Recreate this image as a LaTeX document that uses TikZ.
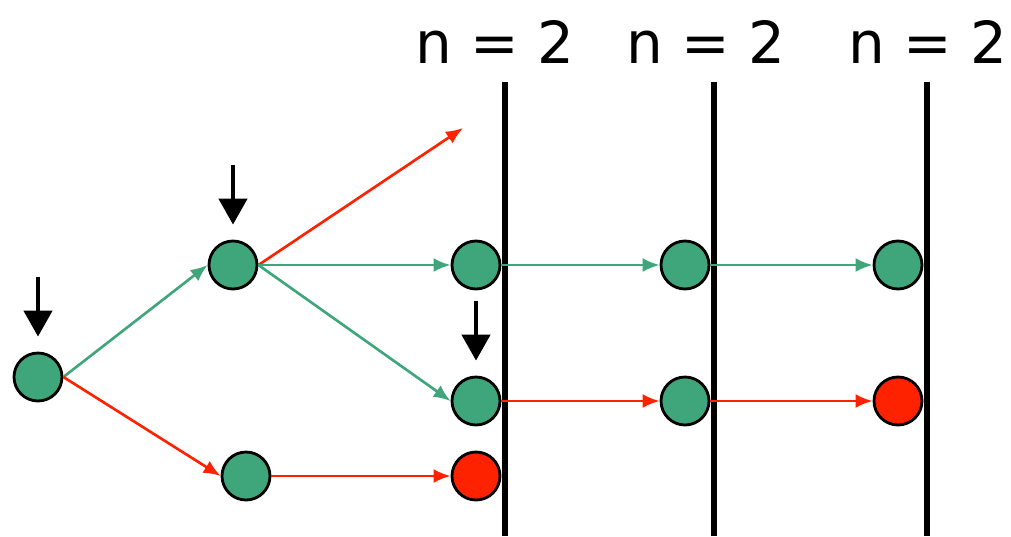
\documentclass[tikz,border=0pt]{standalone}
\usepackage{fontspec}
\setmainfont{DejaVu Sans}
\usetikzlibrary{arrows.meta}
\definecolor{leaf}{RGB}{63,165,122}
\definecolor{cut}{RGB}{255,34,0}
\begin{document}
\begin{tikzpicture}[
    st/.style={circle, draw=black, line width=0.8pt, inner sep=0pt, minimum size=0.48cm},
    go/.style={leaf, line width=0.75pt, -{Latex[length=0.17cm, width=0.14cm]}},
    stop/.style={cut, line width=0.75pt, -{Latex[length=0.17cm, width=0.14cm]}},
    drop/.style={black, line width=1.3pt, -{Triangle[length=0.26cm, width=0.28cm]}},
    wall/.style={black, line width=1.5pt}]
  \useasboundingbox (0,0) rectangle (10.11,5.36);
  % depth bars
  \foreach \x/\lx in {5.05/4.95, 7.14/7.06, 9.27/9.28}{
    \draw[wall] (\x,4.54) -- (\x,0);
    \node[font=\fontsize{16.5}{20}\selectfont] at (\lx,4.94) {n = 2};
  }
  % states
  \foreach \n/\x/\y/\c in {A/0.38/1.59/leaf, B/2.33/2.71/leaf, C/2.46/0.60/leaf,
      D/4.76/2.71/leaf, E/4.76/1.35/leaf, F/4.76/0.60/cut,
      G/6.85/2.71/leaf, H/6.85/1.35/leaf, I/8.98/2.71/leaf, J/8.98/1.35/cut}
    \node[st, fill=\c] (\n) at (\x,\y) {};
  \coordinate (off) at (4.63,4.08);
  % transitions
  \draw[go] (A.east) -- (B.west);
  \draw[stop] (A.east) -- (C.west);
  \draw[stop] (B.east) -- (off);
  \draw[go] (B.east) -- (D.west);
  \draw[go] (B.east) -- (E.west);
  \draw[stop] (C.east) -- (F.west);
  \draw[go] (D.east) -- (G.west);
  \draw[go] (G.east) -- (I.west);
  \draw[stop] (E.east) -- (H.west);
  \draw[stop] (H.east) -- (J.west);
  % expansion marks
  \foreach \n in {A,B,E}
    \draw[drop, shorten >=0.15cm] ([yshift=0.75cm]\n.north) -- (\n.north);
\end{tikzpicture}
\end{document}
